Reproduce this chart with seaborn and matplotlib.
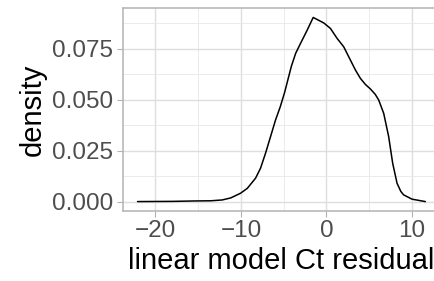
import seaborn as sns
import matplotlib.pyplot as plt
from matplotlib.ticker import MultipleLocator
import pandas as pd

# density curve
residual = [-22.1, -18.0, -15.5, -13.5, -12.2, -11.2, -10.05, -9.26, -8.29, -7.71,
            -7.13, -6.54, -5.96, -5.4, -4.9, -4.5, -4.1, -3.6, -3.04, -2.25,
            -1.55, -1.09, -0.31, 0.47, 1.25, 2.02, 2.8, 3.39, 3.97, 4.56,
            5.14, 5.7, 6.11, 6.7, 7.28, 7.75, 8.26, 8.7, 9.03, 10.0, 11.57]
density = [0.0, 0.0001, 0.0003, 0.0004, 0.0008, 0.0018, 0.0041, 0.0065, 0.0115, 0.0164,
           0.0237, 0.0319, 0.0400, 0.0466, 0.0535, 0.0600, 0.0665, 0.0728, 0.0776, 0.0842,
           0.0904, 0.0894, 0.0877, 0.0850, 0.0801, 0.0760, 0.0695, 0.0646, 0.0605, 0.0575,
           0.0553, 0.0527, 0.0499, 0.0433, 0.0319, 0.0188, 0.0090, 0.0050, 0.0033, 0.0012, 0.0]

x_ticks = [-20, -10, 0, 10]
y_ticks = [0.000, 0.025, 0.050, 0.075]
y_labels = ["0.000", "0.025", "0.050", "0.075"]

df = pd.DataFrame({"residual": residual, "density": density})

sns.set_style("white")
plt.rcParams["font.family"] = ["Liberation Sans", "DejaVu Sans"]

fig = plt.figure(figsize=(4.35, 2.81), dpi=100)
ax = fig.add_axes([0.2828, 0.250, 0.728, 0.7205])

sns.lineplot(data=df, x="residual", y="density", color="black", linewidth=1.1, ax=ax)

ax.set_xlim(-23.8, 13.25)
ax.set_ylim(-0.0045, 0.0949)
ax.set_xticks(x_ticks)
ax.set_xticklabels([str(t).replace("-", "\u2212") for t in x_ticks])
ax.set_yticks(y_ticks)
ax.set_yticklabels(y_labels)
ax.xaxis.set_minor_locator(MultipleLocator(5))
ax.yaxis.set_minor_locator(MultipleLocator(0.0125))

ax.grid(which="major", color="#DEDEDE", linewidth=1.0)
ax.grid(which="minor", color="#E8E8E8", linewidth=0.6)
ax.set_axisbelow(True)

for s in ax.spines.values():
    s.set_color("#B3B3B3")
    s.set_linewidth(1.1)

ax.tick_params(which="major", length=4, width=0.8, color="#B3B3B3",
               labelsize=17.5, labelcolor="#4D4D4D", pad=3, bottom=True, left=True)
ax.tick_params(which="minor", length=0)

ax.set_xlabel("linear model Ct residual", fontsize=21, color="black", labelpad=3)
ax.set_ylabel("density", fontsize=21, color="black", labelpad=4)

fig.savefig("out.png", dpi=100)
